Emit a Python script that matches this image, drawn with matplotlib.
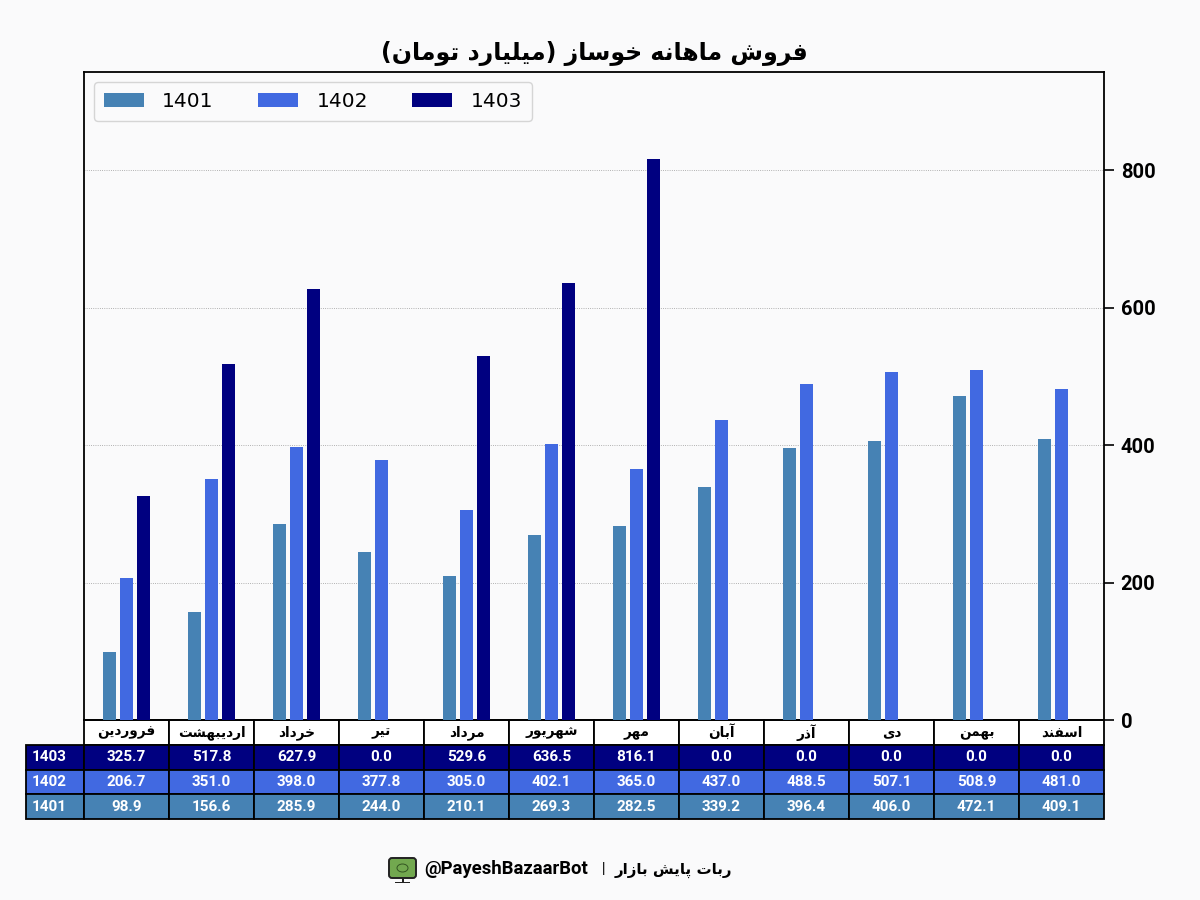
import matplotlib
matplotlib.use('Agg')
import matplotlib.pyplot as plt
from matplotlib.patches import FancyBboxPatch, Rectangle, Ellipse
import numpy as np

months = ['فروردین', 'اردیبهشت', 'خرداد', 'تیر', 'مرداد', 'شهریور',
          'مهر', 'آبان', 'آذر', 'دی', 'بهمن', 'اسفند']
sales_1401 = [98.9, 156.6, 285.9, 244.0, 210.1, 269.3, 282.5, 339.2, 396.4, 406.0, 472.1, 409.1]
sales_1402 = [206.7, 351.0, 398.0, 377.8, 305.0, 402.1, 365.0, 437.0, 488.5, 507.1, 508.9, 481.0]
sales_1403 = [325.7, 517.8, 627.9, 0.0, 529.6, 636.5, 816.1, 0.0, 0.0, 0.0, 0.0, 0.0]
years = ['1401', '1402', '1403']
title = 'فروش ماهانه خوساز (میلیارد تومان)'
footer_fa = 'ربات پایش بازار'
footer_en = '@PayeshBazaarBot'

c_1401 = 'steelblue'
c_1402 = 'royalblue'
c_1403 = 'navy'
bg = '#fafafb'

# presentation forms: isolated, final, initial, medial
FORMS = {
    'ا': ('\ufe8d', '\ufe8e', None, None), 'آ': ('\ufe81', '\ufe82', None, None),
    'د': ('\ufea9', '\ufeaa', None, None), 'ذ': ('\ufeab', '\ufeac', None, None),
    'ر': ('\ufead', '\ufeae', None, None), 'ز': ('\ufeaf', '\ufeb0', None, None),
    'و': ('\ufeed', '\ufeee', None, None),
    'ب': ('\ufe8f', '\ufe90', '\ufe91', '\ufe92'), 'پ': ('\ufb56', '\ufb57', '\ufb58', '\ufb59'),
    'ت': ('\ufe95', '\ufe96', '\ufe97', '\ufe98'), 'خ': ('\ufea5', '\ufea6', '\ufea7', '\ufea8'),
    'س': ('\ufeb1', '\ufeb2', '\ufeb3', '\ufeb4'), 'ش': ('\ufeb5', '\ufeb6', '\ufeb7', '\ufeb8'),
    'ف': ('\ufed1', '\ufed2', '\ufed3', '\ufed4'), 'ل': ('\ufedd', '\ufede', '\ufedf', '\ufee0'),
    'م': ('\ufee1', '\ufee2', '\ufee3', '\ufee4'), 'ن': ('\ufee5', '\ufee6', '\ufee7', '\ufee8'),
    'ه': ('\ufee9', '\ufeea', '\ufeeb', '\ufeec'), 'ی': ('\ufbfc', '\ufbfd', '\ufbfe', '\ufbff'),
}


def fa(text):
    # no shaping in matplotlib, so join the letters and reverse by hand
    out = []
    for i, ch in enumerate(text):
        if ch not in FORMS:
            out.append({'(': ')', ')': '('}.get(ch, ch))
            continue
        prev = text[i - 1] if i > 0 else ''
        nxt = text[i + 1] if i + 1 < len(text) else ''
        from_prev = prev in FORMS and FORMS[prev][2] is not None
        to_next = FORMS[ch][2] is not None and nxt in FORMS
        if from_prev and to_next:
            out.append(FORMS[ch][3])
        elif from_prev:
            out.append(FORMS[ch][1])
        elif to_next:
            out.append(FORMS[ch][2])
        else:
            out.append(FORMS[ch][0])
    return ''.join(reversed(out))


plt.rcParams['font.family'] = ['Roboto', 'DejaVu Sans']

fig = plt.figure(figsize=(12, 9), dpi=100, facecolor=bg)
ax = fig.add_axes([84 / 1200, 1 - 720 / 900, 1020 / 1200, 648 / 900], facecolor=bg)

x = np.arange(len(months))
ax.bar(x - 0.2, sales_1401, 0.16, color=c_1401, label=years[0], zorder=3)
ax.bar(x, sales_1402, 0.16, color=c_1402, label=years[1], zorder=3)
ax.bar(x + 0.2, sales_1403, 0.16, color=c_1403, label=years[2], zorder=3)

ax.set_xlim(-0.5, 11.5)
ax.set_ylim(0, 943)
ax.set_xticks([])
ax.set_yticks([0, 200, 400, 600, 800])
ax.yaxis.tick_right()
ax.tick_params(axis='y', length=7, width=1.2, labelsize=14.5, pad=5)
for lab in ax.get_yticklabels():
    lab.set_fontweight('bold')
ax.grid(axis='y', color='#999999', linestyle=':', linewidth=0.6, zorder=0)
for s in ax.spines.values():
    s.set_linewidth(1.3)

ax.legend(loc='upper left', ncol=3, prop={'family': 'DejaVu Sans', 'size': 14.5},
          facecolor=bg, columnspacing=2.2, handlelength=2.0, borderaxespad=0.48,
          borderpad=0.5, handletextpad=0.9)

ax.set_title(fa(title), family='DejaVu Sans', fontweight='bold', fontsize=17, pad=9)

# table under the axes, first column holds the year
rows = [[years[2]] + [f'{v:.1f}' for v in sales_1403],
        [years[1]] + [f'{v:.1f}' for v in sales_1402],
        [years[0]] + [f'{v:.1f}' for v in sales_1401]]
header = [''] + [fa(m) for m in months]
table = ax.table(cellText=[header] + rows,
                 colWidths=[58] + [85] * 12,
                 cellLoc='center',
                 bbox=[-58 / 1020, -99 / 648, 1078 / 1020, 99 / 648])
table.auto_set_font_size(False)
row_colors = [None, c_1403, c_1402, c_1401]
for (r, c), cell in table.get_celld().items():
    cell.set_linewidth(1.3)
    cell.set_edgecolor('black')
    txt = cell.get_text()
    if r == 0:
        txt.set_fontsize(9.8)
        txt.set_fontfamily('DejaVu Sans')
        txt.set_fontweight('bold')
        cell.set_facecolor('white')
        if c == 0:
            cell.set_visible(False)
    else:
        txt.set_fontsize(11)
        txt.set_fontweight('bold')
        txt.set_color('white')
        cell.set_facecolor(row_colors[r])
        if c == 0:
            txt.set_ha('left')
            cell.PAD = 0.1

# footer
fig.text(732 / 1200, 1 - 870 / 900, fa(footer_fa), family='DejaVu Sans', fontweight='bold',
         fontsize=10.8, ha='right', va='center')
fig.text(604 / 1200, 1 - 869 / 900, '|', fontweight='bold', fontsize=10, ha='center', va='center')
fig.text(424 / 1200, 1 - 869 / 900, footer_en, fontweight='bold', fontsize=13.3, ha='left', va='center')

# small monitor icon next to the handle
overlay = fig.add_axes([0, 0, 1, 1], facecolor='none')
overlay.set_xlim(0, 1200)
overlay.set_ylim(900, 0)
overlay.axis('off')
overlay.add_patch(FancyBboxPatch((389, 858), 27, 20, boxstyle='round,pad=0,rounding_size=3',
                                 facecolor='#72a84f', edgecolor='#222222', linewidth=1.4))
overlay.add_patch(Ellipse((402.5, 868), 11, 8, facecolor='none', edgecolor='#335522', linewidth=0.7))
overlay.add_patch(Rectangle((401.5, 878), 2, 4, facecolor='#222222', edgecolor='none'))
overlay.add_patch(Rectangle((395, 882), 15, 1.2, facecolor='#222222', edgecolor='none'))

fig.savefig('out.png', dpi=100, facecolor=bg)
